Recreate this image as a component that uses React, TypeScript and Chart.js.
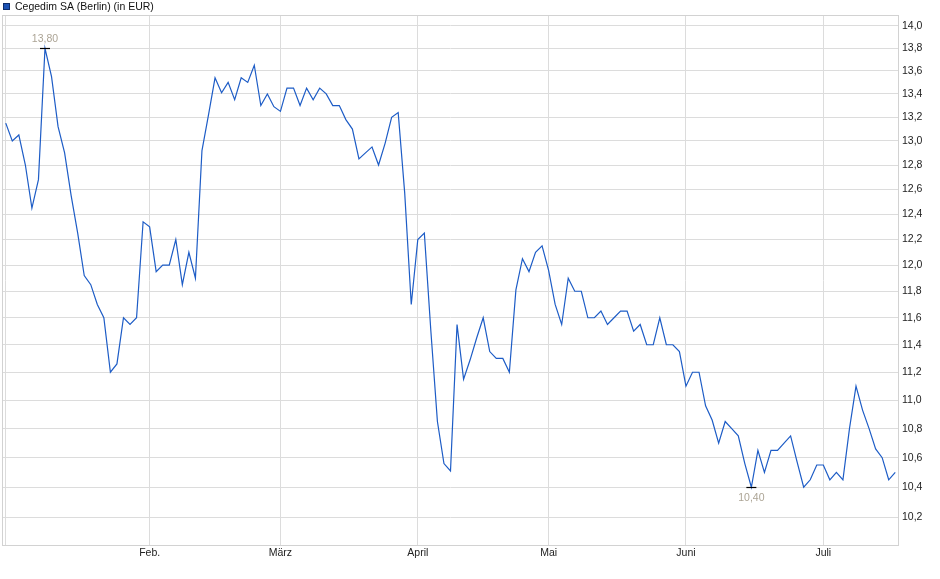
import { useEffect, useRef } from "react";
import { Chart, registerables } from "chart.js";

Chart.register(...registerables);

// daily closing prices (EUR), one value per trading day, Jan -> Jul
const prices: number[] = [
  // Jan.
  13.15, 13.0, 13.05, 12.8, 12.45, 12.68, 13.8, 13.55, 13.12, 12.9, 12.55,
  12.25, 11.92, 11.85, 11.7, 11.6, 11.2, 11.26, 11.6, 11.55, 11.6, 12.34,
  // Feb.
  12.3, 11.95, 12.0, 12.0, 12.2, 11.85, 12.1, 11.9, 12.92, 13.22, 13.54,
  13.41, 13.5, 13.35, 13.54, 13.5, 13.65, 13.3, 13.4, 13.29,
  // März
  13.25, 13.45, 13.45, 13.3, 13.45, 13.35, 13.45, 13.4, 13.3, 13.3, 13.18,
  13.1, 12.85, 12.9, 12.95, 12.8, 12.98, 13.2, 13.24, 12.57, 11.7,
  // April
  12.2, 12.25, 11.5, 10.85, 10.56, 10.51, 11.55, 11.15, 11.29, 11.45, 11.6,
  11.35, 11.3, 11.3, 11.2, 11.81, 12.05, 11.95, 12.1, 12.15,
  // Mai
  11.96, 11.7, 11.55, 11.9, 11.8, 11.8, 11.6, 11.6, 11.65, 11.55, 11.6,
  11.65, 11.65, 11.5, 11.55, 11.4, 11.4, 11.6, 11.4, 11.4, 11.35,
  // Juni
  11.1, 11.2, 11.2, 10.96, 10.86, 10.7, 10.85, 10.8, 10.75, 10.56, 10.4,
  10.65, 10.5, 10.65, 10.65, 10.7, 10.75, 10.57, 10.4, 10.45, 10.55,
  // Juli
  10.55, 10.45, 10.5, 10.45, 10.8, 11.1, 10.93, 10.8, 10.66, 10.6, 10.45, 10.5,
];

// index of the first trading day of each month
const monthStarts: number[] = [0, 22, 42, 63, 83, 104, 125];
const monthLabels: string[] = ["", "Feb.", "März", "April", "Mai", "Juni", "Juli"];

const yTicks: number[] = [
  10.2, 10.4, 10.6, 10.8, 11.0, 11.2, 11.4, 11.6, 11.8, 12.0, 12.2, 12.4,
  12.6, 12.8, 13.0, 13.2, 13.4, 13.6, 13.8, 14.0,
];

const seriesName = "Cegedim SA (Berlin) (in EUR)";

const FONT = "'Liberation Sans', Arial, sans-serif";
const fmt = (v: number, d: number) => v.toFixed(d).replace(".", ",");

const overlay = {
  id: "overlay",
  beforeDatasetsDraw(chart: Chart) {
    const { ctx, chartArea: a } = chart;
    ctx.save();
    ctx.strokeStyle = "#d2d2d2";
    ctx.lineWidth = 1;
    ctx.strokeRect(a.left - 0.5, a.top - 0.5, a.right - a.left + 1, a.bottom - a.top + 1);
    ctx.restore();
  },
  afterDraw(chart: Chart) {
    const { ctx, scales } = chart;
    ctx.save();

    // legend
    ctx.fillStyle = "#1c52b4";
    ctx.fillRect(3, 3, 7, 7);
    ctx.strokeStyle = "#0e2d6b";
    ctx.lineWidth = 1;
    ctx.strokeRect(3.5, 3.5, 6, 6);
    ctx.fillStyle = "#111";
    ctx.font = `10.5px ${FONT}`;
    ctx.textBaseline = "middle";
    ctx.textAlign = "left";
    ctx.fillText(seriesName, 15, 7);

    // high / low markers
    const hi = Math.max(...prices);
    const lo = Math.min(...prices);
    const marks = [
      { i: prices.indexOf(hi), v: hi, dy: -9 },
      { i: prices.indexOf(lo), v: lo, dy: 11 },
    ];
    ctx.textAlign = "center";
    for (const m of marks) {
      const px = scales.x.getPixelForValue(m.i);
      const py = Math.round(scales.y.getPixelForValue(m.v)) + 0.5;
      ctx.strokeStyle = "#000";
      ctx.lineWidth = 1.2;
      ctx.beginPath();
      ctx.moveTo(px - 5, py);
      ctx.lineTo(px + 5, py);
      ctx.stroke();
      ctx.fillStyle = "#aca495";
      ctx.fillText(fmt(m.v, 2), px, py + m.dy);
    }
    ctx.restore();
  },
};

export default function App() {
  const chartRef = useRef<HTMLCanvasElement>(null);
  const chartInstance = useRef<Chart | null>(null);

  useEffect(() => {
    document.body.style.margin = "0";
    if (!chartRef.current) return;
    if (chartInstance.current) chartInstance.current.destroy();

    chartInstance.current = new Chart(chartRef.current, {
      type: "line",
      data: {
        datasets: [
          {
            label: seriesName,
            data: prices.map((y, x) => ({ x, y })),
            borderColor: "#1d5cc6",
            borderWidth: 1.2,
            pointRadius: 0,
            tension: 0,
            fill: false,
          },
        ],
      },
      options: {
        responsive: false,
        animation: false,
        layout: { padding: { left: 3, top: 16, right: 0, bottom: 0 } },
        plugins: {
          legend: { display: false },
          tooltip: { enabled: false },
        },
        scales: {
          x: {
            type: "linear",
            min: -0.42,
            max: prices.length - 1 + 0.42,
            afterBuildTicks: (scale: any) => {
              scale.ticks = monthStarts.map((value) => ({ value }));
            },
            afterFit: (scale: any) => {
              scale.height = 34;
            },
            grid: { color: "#dcdcdc", drawTicks: false },
            border: { display: false },
            ticks: {
              autoSkip: false,
              maxRotation: 0,
              padding: 2,
              color: "#222",
              font: { family: FONT, size: 10.5 },
              callback: (value: any) => {
                const k = monthStarts.indexOf(Number(value));
                return k >= 0 ? monthLabels[k] : "";
              },
            },
          },
          y: {
            type: "logarithmic",
            position: "right",
            min: 10.02,
            max: 14.09,
            afterBuildTicks: (scale: any) => {
              scale.ticks = yTicks.map((value) => ({ value }));
            },
            afterFit: (scale: any) => {
              scale.width = 42;
            },
            grid: { color: "#dcdcdc", drawTicks: false },
            border: { display: false },
            ticks: {
              autoSkip: false,
              padding: 4,
              color: "#222",
              font: { family: FONT, size: 10.5 },
              callback: (value: any) => fmt(Number(value), 1),
            },
          },
        },
      },
      plugins: [overlay],
    });

    return () => {
      if (chartInstance.current) {
        chartInstance.current.destroy();
        chartInstance.current = null;
      }
    };
  }, []);

  return (
    <div style={{ width: 940, height: 579, background: "#fff" }}>
      <canvas ref={chartRef} width={940} height={579} style={{ display: "block" }}></canvas>
    </div>
  );
}
